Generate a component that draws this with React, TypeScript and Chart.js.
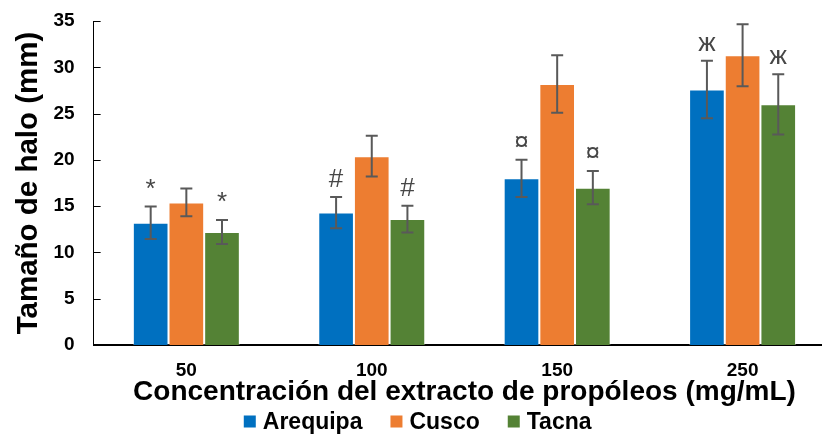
import { useEffect, useRef } from 'react';
import { Chart, registerables } from 'chart.js';

Chart.register(...registerables);

const FONT = '"Liberation Sans", Arial, sans-serif';

// Propolis extract concentrations (mg/mL)
const concentrations = ['50', '100', '150', '250'];

// Mean inhibition halo (mm) per origin
const arequipa = [13.2, 14.3, 18.0, 27.6];
const cusco = [15.4, 20.4, 28.2, 31.3];
const tacna = [12.2, 13.6, 17.0, 26.0];

// Standard deviations
const arequipaErr = [1.75, 1.7, 2.0, 3.1];
const cuscoErr = [1.5, 2.2, 3.1, 3.35];
const tacnaErr = [1.3, 1.45, 1.8, 3.25];

// Significance markers shown above the error bars
const arequipaMarks = ['*', '#', '¤', 'ж'];
const cuscoMarks = ['', '', '', ''];
const tacnaMarks = ['*', '#', '¤', 'ж'];

const yMax = 35;
const yStep = 5;

const seriesColors = ['#0070C0', '#ED7D31', '#548235'];

const errorBarPlugin = {
  id: 'errorBars',
  afterDatasetsDraw(chart: any) {
    const { ctx } = chart;
    const y = chart.scales.y;
    ctx.save();
    chart.data.datasets.forEach((ds: any, i: number) => {
      const meta = chart.getDatasetMeta(i);
      meta.data.forEach((bar: any, j: number) => {
        const v = ds.data[j];
        const e = ds.errors[j];
        const top = y.getPixelForValue(v + e);
        const bot = y.getPixelForValue(v - e);
        const x = bar.x;
        ctx.strokeStyle = '#595959';
        ctx.lineWidth = 2;
        ctx.beginPath();
        ctx.moveTo(x, top);
        ctx.lineTo(x, bot);
        ctx.moveTo(x - 6, top);
        ctx.lineTo(x + 6, top);
        ctx.moveTo(x - 6, bot);
        ctx.lineTo(x + 6, bot);
        ctx.stroke();
        const mark = ds.marks[j];
        if (mark) {
          ctx.fillStyle = '#474747';
          ctx.font = `26px ${FONT}`;
          ctx.textAlign = 'center';
          ctx.textBaseline = 'alphabetic';
          ctx.fillText(mark, x, top - 10);
        }
      });
    });
    ctx.restore();
  },
};

// Short tick marks on the inner side of the value axis
const innerTicksPlugin = {
  id: 'innerTicks',
  afterDraw(chart: any) {
    const { ctx, chartArea } = chart;
    const y = chart.scales.y;
    ctx.save();
    ctx.strokeStyle = '#000';
    ctx.lineWidth = 1;
    ctx.beginPath();
    y.ticks.forEach((t: any) => {
      const py = Math.round(y.getPixelForValue(t.value)) + 0.5;
      ctx.moveTo(chartArea.left, py);
      ctx.lineTo(chartArea.left + 7, py);
    });
    ctx.stroke();
    ctx.restore();
  },
};

const legendPlugin = {
  id: 'bottomLegend',
  afterDraw(chart: any) {
    const { ctx } = chart;
    ctx.save();
    ctx.font = `bold 23px ${FONT}`;
    const box = 12;
    const boxGap = 7;
    const itemGap = 28;
    const items = chart.data.datasets.map((ds: any) => ({
      label: ds.label,
      color: ds.backgroundColor,
      w: box + boxGap + ctx.measureText(ds.label).width,
    }));
    const total =
      items.reduce((s: number, it: any) => s + it.w, 0) + itemGap * (items.length - 1);
    let x = chart.chartArea.right / 2 - total / 2;
    const cy = chart.height - 13.5;
    items.forEach((it: any) => {
      ctx.fillStyle = it.color;
      ctx.fillRect(x, cy - box / 2, box, box);
      ctx.fillStyle = '#000';
      ctx.textAlign = 'left';
      ctx.textBaseline = 'middle';
      ctx.fillText(it.label, x + box + boxGap, cy + 1);
      x += it.w + itemGap;
    });
    ctx.restore();
  },
};

export default function App() {
  const ref = useRef<HTMLCanvasElement>(null);

  useEffect(() => {
    const barOpts = {
      borderWidth: 1,
      borderColor: 'rgba(255,255,255,0.35)',
      barPercentage: 1,
      categoryPercentage: 0.577,
    };
    const xTickPad = 16.5;
    const yTickPad = 19;
    const chart = new Chart(ref.current!, {
      type: 'bar',
      data: {
        labels: concentrations,
        datasets: [
          { label: 'Arequipa', data: arequipa, errors: arequipaErr, marks: arequipaMarks, backgroundColor: seriesColors[0], ...barOpts },
          { label: 'Cusco', data: cusco, errors: cuscoErr, marks: cuscoMarks, backgroundColor: seriesColors[1], ...barOpts },
          { label: 'Tacna', data: tacna, errors: tacnaErr, marks: tacnaMarks, backgroundColor: seriesColors[2], ...barOpts },
        ] as any,
      },
      options: {
        responsive: false,
        animation: false,
        layout: { padding: { left: 0, right: 24.7, top: 21, bottom: 28.5 } },
        scales: {
          x: {
            grid: { display: false, drawTicks: false },
            border: { display: true, color: '#000', width: 2 },
            ticks: {
              color: '#000',
              padding: xTickPad,
              font: { family: FONT, size: 19, weight: 'bold', lineHeight: 1 },
            },
            title: {
              display: true,
              text: 'Concentración del extracto de propóleos (mg/mL)',
              color: '#000',
              font: { family: FONT, size: 28, weight: 'bold', lineHeight: 1 },
              // the scale reserves twice the tick padding; take the extra back here
              padding: { top: -2 - xTickPad, bottom: 0 },
            },
          },
          y: {
            min: 0,
            max: yMax,
            grid: { display: false, drawTicks: false },
            border: { display: true, color: '#000', width: 1 },
            ticks: {
              stepSize: yStep,
              color: '#000',
              padding: yTickPad,
              font: { family: FONT, size: 19, weight: 'bold', lineHeight: 1.2 },
            },
            title: {
              display: true,
              text: 'Tamaño de halo (mm)',
              color: '#000',
              font: { family: FONT, size: 29.5, weight: 'bold', lineHeight: 1 },
              padding: { top: 14, bottom: 10 - yTickPad },
            },
            afterFit(scale: any) {
              // let the layout padding alone decide the plot's top edge
              scale.paddingTop = 0;
              scale.paddingBottom = 0;
            },
          },
        },
        plugins: {
          legend: { display: false },
          tooltip: { enabled: false },
        },
      },
      plugins: [errorBarPlugin, innerTicksPlugin, legendPlugin],
    });
    return () => chart.destroy();
  }, []);

  return (
    <div
      style={{
        position: 'fixed',
        left: 0,
        top: 0,
        width: 822,
        height: 435,
        overflow: 'hidden',
        background: '#fff',
      }}
    >
      <canvas ref={ref} width={860} height={435} style={{ display: 'block', width: 860, height: 435 }} />
    </div>
  );
}
